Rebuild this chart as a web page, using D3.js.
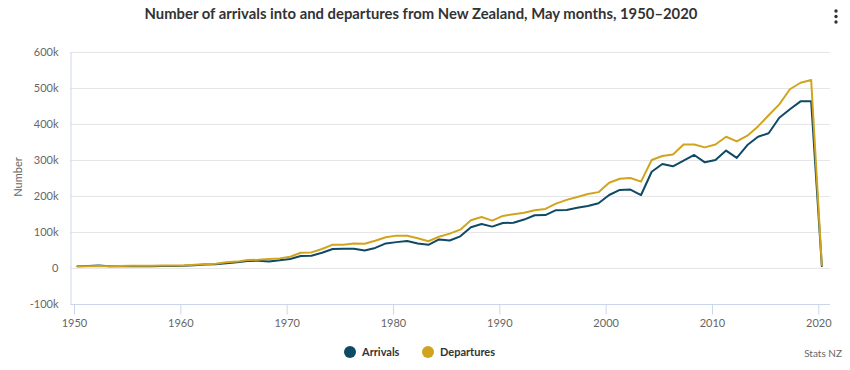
<!DOCTYPE html>
<html><head><meta charset="utf-8">
<script src="https://cdn.jsdelivr.net/npm/d3@7"></script>
<style>
html,body{margin:0;padding:0;background:#fff;}
svg{display:block;font-family:Lato,"Open Sans",sans-serif;}
</style></head>
<body>
<svg id="chart" width="850" height="370"></svg>
<script>
const titleText = "Number of arrivals into and departures from New Zealand, May months, 1950–2020";
const years = d3.range(1950, 2021);
const arrivals = [6,6.5,7.5,5.5,6,6.5,6,6,6.5,6.5,7,8.5,10.5,11,14,16.5,20,21,19,22,26,34,35,43,53.5,54,54,49.5,56.5,69,72.5,75.5,68.5,65,80,77,88.5,113.5,122.5,115.5,125.5,126,135,147,147.5,161,161.5,167.5,172.5,180,203,217,218,203,267.5,289,282.5,298,314,293.5,300,326,306,341.5,364.5,374,417,440.5,462.5,462.5,6.5];
const departures = [6,6,6.5,5.5,6.5,7,7,7,7.5,7.5,8,9.5,11.5,12.5,17,18.5,23,23.5,25.5,27.5,32,43,44,53.5,65.5,65.5,69,68,76.5,86,90.5,90,83,75,87.5,96,107,133,142,132,145,150,154,161,164.5,179,189.5,197.5,206,211,237,248,250,240,300,311,315,343,343,335,343,364.5,351.5,367.5,393,424,454,496,514,521.5,9];
const yTickValues = [-100000,0,100000,200000,300000,400000,500000,600000];
const yTickLabels = ["-100k","0","100k","200k","300k","400k","500k","600k"];
const xTickYears = [1950,1960,1970,1980,1990,2000,2010,2020];
const seriesNames = ["Arrivals","Departures"];
const colors = ["#0e4a66","#d1a41f"];

const svg = d3.select("#chart");
const plotL = 70.5, plotR = 830, plotT = 51.7, plotB = 304.4;

const x = d3.scaleTime()
  .domain([new Date(1950,0,1), new Date(2020,0,1)])
  .range([74, 818.3]);
const y = d3.scaleLinear().domain([-100000, 600000]).range([plotB, plotT]);

// gridlines
svg.append("g").selectAll("line").data(yTickValues).join("line")
  .attr("x1", plotL).attr("x2", plotR)
  .attr("y1", d => Math.round(y(d)) + 0.5).attr("y2", d => Math.round(y(d)) + 0.5)
  .attr("stroke", "#e6e6e6").attr("stroke-width", 1);

// y axis
const yAxis = d3.axisLeft(y).tickValues(yTickValues)
  .tickFormat((d, i) => yTickLabels[i]).tickSize(0).tickPadding(12);
const gy = svg.append("g").attr("transform", `translate(${plotL},0)`).call(yAxis);
gy.select(".domain").attr("stroke", "#ccd6eb");
gy.selectAll("text").attr("fill", "#666").style("font-size", "11px").style("font-family", "Lato");

// x axis
const xAxis = d3.axisBottom(x).tickValues(xTickYears.map(v => new Date(v,0,1)))
  .tickFormat(d3.timeFormat("%Y")).tickSize(10).tickSizeOuter(0).tickPadding(5);
const gx = svg.append("g").attr("transform", `translate(0,${Math.round(plotB)+0.5})`).call(xAxis);
gx.select(".domain").attr("d", `M${plotL},0H${plotR}`).attr("stroke", "#ccd6eb");
gx.selectAll(".tick line").attr("stroke", "#ccd6eb");
gx.selectAll("text").attr("fill", "#666").style("font-size", "11px").style("font-family", "Lato");

// y axis title
svg.append("text").attr("transform", "translate(22,177) rotate(-90)")
  .attr("text-anchor", "middle").attr("fill", "#666")
  .style("font-size", "11px").text("Number");

// lines
const line = d3.line().x(d => x(new Date(d[0],4,1))).y(d => y(d[1]*1000));
[arrivals, departures].forEach((arr, i) => {
  svg.append("path").datum(years.map((yr, j) => [yr, arr[j]]))
    .attr("fill", "none").attr("stroke", colors[i]).attr("stroke-width", 2)
    .attr("stroke-linejoin", "round").attr("stroke-linecap", "round")
    .attr("d", line);
});

// title
const t = svg.append("text").attr("x", 421).attr("y", 19).attr("text-anchor", "middle")
  .attr("fill", "#333").style("font-size", "14px").style("font-weight", "700").text(titleText);
const tw = t.node().getComputedTextLength();
t.style("font-size", (14 * 553 / tw).toFixed(2) + "px");

// menu icon
svg.append("g").selectAll("circle").data([0,1,2]).join("circle")
  .attr("cx", 836).attr("cy", d => 11 + d*5.5).attr("r", 1.7).attr("fill", "#333");

// legend
const legX = [350, 428];
seriesNames.forEach((n, i) => {
  svg.append("circle").attr("cx", legX[i]).attr("cy", 352).attr("r", 6).attr("fill", colors[i]);
  svg.append("text").attr("x", legX[i] + 12).attr("y", 356).attr("fill", "#333")
    .style("font-size", "11px").style("font-weight", "700").text(n);
});

// credit
svg.append("text").attr("x", 842).attr("y", 357).attr("text-anchor", "end")
  .attr("fill", "#666").style("font-size", "10px").text("Stats NZ");
</script>
</body></html>
